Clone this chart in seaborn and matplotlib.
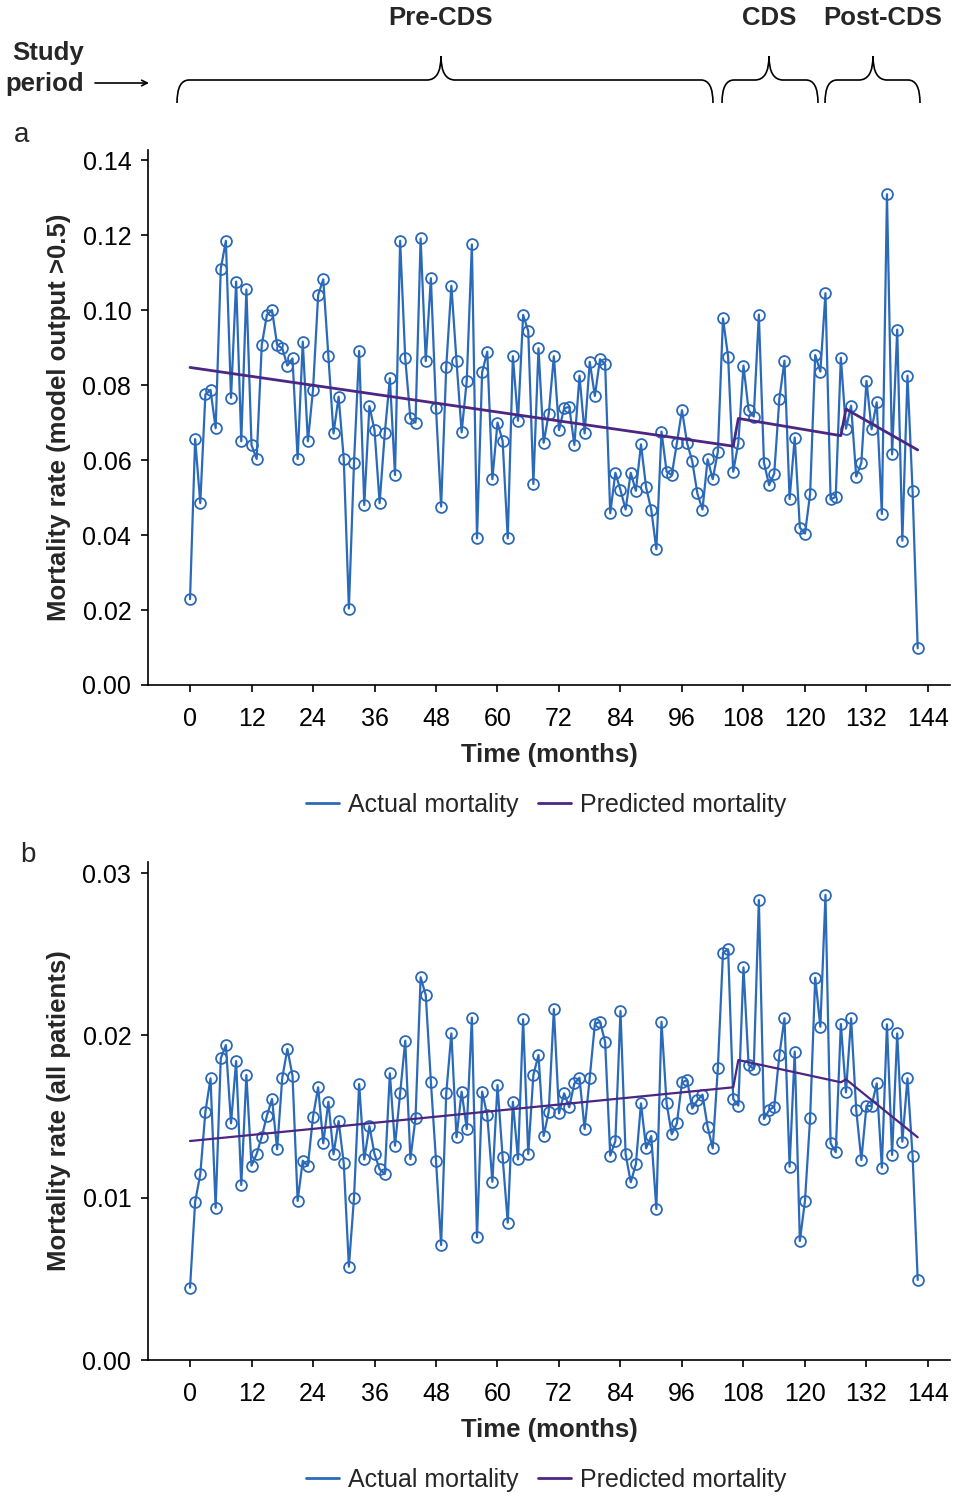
import matplotlib
matplotlib.use("Agg")
import matplotlib.pyplot as plt
import seaborn as sns
import pandas as pd
from matplotlib.path import Path
from matplotlib.patches import PathPatch
from matplotlib.lines import Line2D

# ---------------- data ----------------
months = list(range(143))

actual_a = [
    0.0229, 0.0656, 0.0485, 0.0775, 0.0787, 0.0685, 0.1110, 0.1185, 0.0766, 0.1076,
    0.0650, 0.1055, 0.0640, 0.0603, 0.0907, 0.0987, 0.1000, 0.0907, 0.0898, 0.0852,
    0.0871, 0.0603, 0.0916, 0.0650, 0.0787, 0.1040, 0.1082, 0.0877, 0.0671, 0.0769,
    0.0603, 0.0204, 0.0593, 0.0891, 0.0480, 0.0744, 0.0680, 0.0485, 0.0671, 0.0818,
    0.0560, 0.1185, 0.0871, 0.0711, 0.0700, 0.1191, 0.0864, 0.1085, 0.0738, 0.0476,
    0.0849, 0.1065, 0.0864, 0.0674, 0.0812, 0.1175, 0.0391, 0.0834, 0.0889, 0.0549,
    0.0700, 0.0651, 0.0391, 0.0877, 0.0705, 0.0987, 0.0944, 0.0536, 0.0898, 0.0646,
    0.0723, 0.0877, 0.0680, 0.0738, 0.0742, 0.0640, 0.0825, 0.0671, 0.0862, 0.0771,
    0.0869, 0.0856, 0.0458, 0.0566, 0.0520, 0.0468, 0.0566, 0.0518, 0.0642, 0.0527,
    0.0468, 0.0362, 0.0676, 0.0569, 0.0560, 0.0645, 0.0733, 0.0645, 0.0597, 0.0511,
    0.0468, 0.0602, 0.0549, 0.0622, 0.0978, 0.0876, 0.0569, 0.0646, 0.0852, 0.0733,
    0.0716, 0.0988, 0.0593, 0.0533, 0.0564, 0.0763, 0.0865, 0.0496, 0.0660, 0.0420,
    0.0404, 0.0509, 0.0880, 0.0836, 0.1045, 0.0495, 0.0502, 0.0873, 0.0684, 0.0745,
    0.0556, 0.0593, 0.0811, 0.0682, 0.0754, 0.0456, 0.1309, 0.0615, 0.0948, 0.0385,
    0.0825, 0.0517, 0.0098,
]

actual_b = [
    0.00445, 0.00975, 0.01144, 0.01530, 0.01735, 0.00938, 0.01858, 0.01940, 0.01458, 0.01842,
    0.01078, 0.01756, 0.01197, 0.01269, 0.01376, 0.01505, 0.01608, 0.01298, 0.01739, 0.01916,
    0.01751, 0.00980, 0.01228, 0.01197, 0.01499, 0.01680, 0.01335, 0.01591, 0.01267, 0.01472,
    0.01212, 0.00575, 0.01000, 0.01700, 0.01236, 0.01441, 0.01269, 0.01175, 0.01146, 0.01766,
    0.01320, 0.01643, 0.01967, 0.01238, 0.01489, 0.02358, 0.02248, 0.01715, 0.01228, 0.00708,
    0.01643, 0.02012, 0.01372, 0.01653, 0.01423, 0.02109, 0.00756, 0.01653, 0.01509, 0.01098,
    0.01694, 0.01249, 0.00846, 0.01591, 0.01236, 0.02099, 0.01269, 0.01756, 0.01879, 0.01380,
    0.01530, 0.02162, 0.01520, 0.01643, 0.01557, 0.01704, 0.01739, 0.01423, 0.01739, 0.02070,
    0.02084, 0.01961, 0.01259, 0.01349, 0.02150, 0.01269, 0.01095, 0.01206, 0.01581, 0.01304,
    0.01380, 0.00930, 0.02084, 0.01581, 0.01390, 0.01458, 0.01710, 0.01725, 0.01550, 0.01600,
    0.01635, 0.01437, 0.01304, 0.01800, 0.02509, 0.02530, 0.01608, 0.01567, 0.02419, 0.01817,
    0.01793, 0.02834, 0.01485, 0.01540, 0.01560, 0.01879, 0.02105, 0.01191, 0.01900, 0.00733,
    0.00981, 0.01489, 0.02355, 0.02053, 0.02865, 0.01335, 0.01280, 0.02070, 0.01649, 0.02105,
    0.01540, 0.01232, 0.01565, 0.01565, 0.01704, 0.01185, 0.02068, 0.01263, 0.02012, 0.01345,
    0.01735, 0.01257, 0.00493,
]

pred_months = [0, 106, 107, 127, 128, 142]
pred_a = [0.0847, 0.0637, 0.0711, 0.0665, 0.0736, 0.0627]
pred_b = [0.01349, 0.01680, 0.01848, 0.01711, 0.01729, 0.01372]

x_ticks = [0, 12, 24, 36, 48, 60, 72, 84, 96, 108, 120, 132, 144]
y_ticks_a = [0.00, 0.02, 0.04, 0.06, 0.08, 0.10, 0.12, 0.14]
y_ticks_b = [0.00, 0.01, 0.02, 0.03]

ylabel_a = "Mortality rate (model output >0.5)"
ylabel_b = "Mortality rate (all patients)"
xlabel = "Time (months)"
legend_labels = ["Actual mortality", "Predicted mortality"]
period_labels = ["Pre-CDS", "CDS", "Post-CDS"]

# ---------------- style ----------------
sns.set_style("ticks")
plt.rcParams["font.family"] = ["Liberation Sans", "DejaVu Sans"]

BLUE = "#2b69b9"
PURPLE = "#4b2682"
FS = 18
FSL = 18.5

fig = plt.figure(figsize=(9.59, 15.0), dpi=100)

W, H = 959.0, 1500.0
x_left, x_right = 148, 950


def make_axes(top, bottom):
    return fig.add_axes([x_left / W, 1 - bottom / H, (x_right - x_left) / W, (bottom - top) / H])


ax_a = make_axes(150, 685)
ax_b = make_axes(862, 1360)

df_a = pd.DataFrame({"month": months, "actual": actual_a})
df_b = pd.DataFrame({"month": months, "actual": actual_b})
dp_a = pd.DataFrame({"month": pred_months, "pred": pred_a})
dp_b = pd.DataFrame({"month": pred_months, "pred": pred_b})


def draw(ax, df, dp, yticks, ymax, ylabel, pred_lw):
    sns.lineplot(data=df, x="month", y="actual", ax=ax, color=BLUE, linewidth=1.6,
                 marker="o", markersize=7.8, markerfacecolor="none",
                 markeredgecolor=BLUE, markeredgewidth=1.3, errorbar=None, legend=False)
    sns.lineplot(data=dp, x="month", y="pred", ax=ax, color=PURPLE, linewidth=pred_lw,
                 errorbar=None, legend=False)
    ax.set_xlim(-8.2, 148.3)
    ax.set_ylim(0, ymax)
    ax.set_xticks(x_ticks)
    ax.set_xticklabels([str(t) for t in x_ticks])
    ax.set_yticks(yticks)
    ax.set_yticklabels([f"{t:.2f}" for t in yticks])
    sns.despine(ax=ax)
    for s in ["left", "bottom"]:
        ax.spines[s].set_linewidth(1.2)
        ax.spines[s].set_color("black")
    ax.tick_params(direction="out", length=5, width=1.2, labelsize=FS, colors="black")
    ax.tick_params(axis="x", pad=10.5)
    ax.tick_params(axis="y", pad=7)
    ax.set_xlabel(xlabel, fontsize=FSL, fontweight="bold", labelpad=9)
    ax.set_ylabel(ylabel, fontsize=FSL, fontweight="bold", labelpad=8)
    handles = [Line2D([0], [0], color=BLUE, lw=2), Line2D([0], [0], color=PURPLE, lw=2)]
    return handles


leg_kw = dict(loc="center", bbox_transform=fig.transFigure, ncol=2, frameon=False,
              fontsize=FS, handlelength=1.32, handletextpad=0.36, columnspacing=0.8)

h = draw(ax_a, df_a, dp_a, y_ticks_a, 0.1427, ylabel_a, 2.0)
ax_a.legend(h, legend_labels, bbox_to_anchor=(546 / W, 1 - 805 / H), **leg_kw)
h = draw(ax_b, df_b, dp_b, y_ticks_b, 0.03068, ylabel_b, 1.6)
ax_b.legend(h, legend_labels, bbox_to_anchor=(546 / W, 1 - 1480 / H), **leg_kw)

# ---------------- annotation overlay (pixel coordinates) ----------------
ov = fig.add_axes([0, 0, 1, 1], zorder=-1)
ov.set_xlim(0, W)
ov.set_ylim(H, 0)
ov.axis("off")
ov.patch.set_alpha(0)


def brace(x0, x1, xm, yb=103, ym=80, yt=56, re=12, rm=14):
    verts = [(x0, yb), (x0, ym), (x0 + re, ym),
             (xm - rm, ym),
             (xm, ym), (xm, yt),
             (xm, ym), (xm + rm, ym),
             (x1 - re, ym),
             (x1, ym), (x1, yb)]
    codes = [Path.MOVETO, Path.CURVE3, Path.CURVE3,
             Path.LINETO,
             Path.CURVE3, Path.CURVE3,
             Path.CURVE3, Path.CURVE3,
             Path.LINETO,
             Path.CURVE3, Path.CURVE3]
    ov.add_patch(PathPatch(Path(verts, codes), facecolor="none", edgecolor="black", lw=1.2))


brace(177, 713, 441)
brace(722, 818, 769)
brace(825, 920, 873)

for lab, xc in zip(period_labels, [441, 769, 883]):
    ov.text(xc, 18, lab, ha="center", va="center", fontsize=FSL, fontweight="bold")

ov.text(48, 53, "Study", ha="center", va="center", fontsize=FSL, fontweight="bold")
ov.text(45, 84, "period", ha="center", va="center", fontsize=FSL, fontweight="bold")
ov.annotate("", xy=(149, 83), xytext=(95, 83),
            arrowprops=dict(arrowstyle="->", lw=1.2, color="black", shrinkA=0, shrinkB=0))

ov.text(22, 135, "a", ha="center", va="center", fontsize=20)
ov.text(28, 855, "b", ha="center", va="center", fontsize=20)

fig.savefig("out.png", dpi=100)
